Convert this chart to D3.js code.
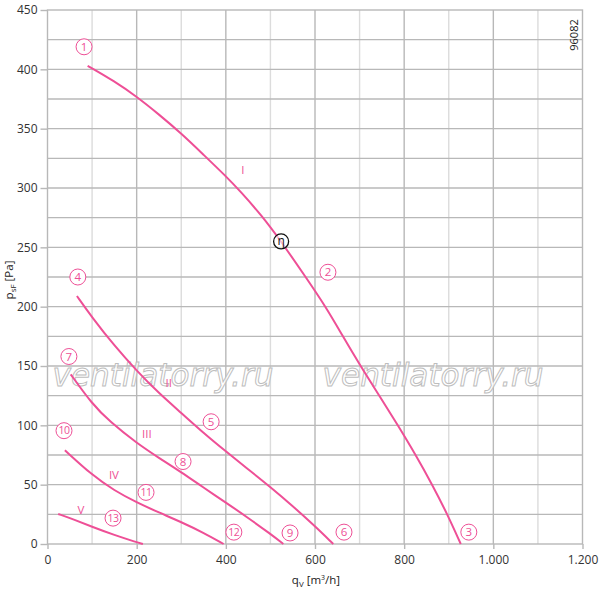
<!DOCTYPE html>
<html><head><meta charset="utf-8">
<script src="https://cdn.jsdelivr.net/npm/d3@7"></script>
<style>body{margin:0;background:#fff}svg{display:block}</style>
</head><body>
<svg id="c" width="600" height="592"></svg>
<script>
// ---- data ----
const xTicks = [0, 200, 400, 600, 800, 1000, 1200];
const yTicks = [0, 50, 100, 150, 200, 250, 300, 350, 400, 450];
const xGrid = [100, 200, 300, 400, 500, 600, 700, 800, 900, 1000, 1100];
const yGrid = [25, 50, 75, 100, 125, 150, 175, 200, 225, 250, 275, 300, 325, 350, 375, 400, 425];

const curveI = [[90,403],[150,390],[200,377],[250,362],[300,346],[350,328],[400,310],[433,297],[480,277],[524,255],[579,225],[624,200],[661,176],[702,150],[746,124],[786,100],[826,75],[863,50],[897,25],[927,0]];
const curveII = [[66,209],[100,191],[150,167],[200,146],[250,127],[300,110.5],[350,93.5],[400,78],[450,63],[500,48],[550,32],[600,15],[641,0]];
const curveIII = [[52,143],[100,118],[140,103],[200,85],[250,72.5],[300,60.5],[350,47.5],[400,35],[450,22],[500,8.5],[529,0]];
const curveIV = [[39,79],[100,58],[150,45],[200,35],[250,26.5],[300,18.5],[350,9.5],[395,0]];
const curveV = [[24,25.3],[60,20.5],[100,14.5],[150,7.5],[200,1.5],[214,0]];
const curves = [curveI, curveII, curveIII, curveIV, curveV];

const circledLabels = ["1","2","3","4","5","6","7","8","9","10","11","12","13"];
const circledQ = [82, 629, 945, 68, 367, 665, 48, 304, 544, 37, 221, 418, 147];
const circledP = [419, 229, 10, 225, 103, 10, 158, 69.5, 9.3, 95.5, 43.5, 10, 21.8];

const romanLabels = ["I","II","III","IV","V"];
const romanQ = [438, 272, 223, 149, 75];
const romanP = [315, 136, 93, 58, 28.6];

const etaPoint = [524, 255];

// ---- layout ----
const svg = d3.select("#c");
const pink = "#ee4f96";
const gridDark = "#b8b8b8", gridLight = "#dcdcdc";
const x = d3.scaleLinear().domain([0, 1200]).range([47.5, 582.5]);
const y = d3.scaleLinear().domain([0, 450]).range([544, 10]);
const loc = d3.formatLocale({decimal: ",", thousands: ".", grouping: [3], currency: ["", ""]});
const fmt = loc.format(",d");
const font = "'Open Sans', 'Noto Sans', sans-serif";

// grid
svg.append("g").selectAll("line").data(xGrid).join("line")
  .attr("x1", d => x(d)).attr("x2", d => x(d))
  .attr("y1", y(0)).attr("y2", y(450))
  .attr("stroke", d => (d % 200 === 0) ? gridDark : gridLight)
  .attr("stroke-width", 1.4);
svg.append("g").selectAll("line").data(yGrid).join("line")
  .attr("x1", x(0)).attr("x2", x(1200))
  .attr("y1", d => y(d)).attr("y2", d => y(d))
  .attr("stroke", gridDark).attr("stroke-width", 1.4);

// frame
svg.append("rect").attr("x", x(0)).attr("y", y(450))
  .attr("width", x(1200) - x(0)).attr("height", y(0) - y(450))
  .attr("fill", "none").attr("stroke", gridDark).attr("stroke-width", 1.4);

// watermark
[[x(0) + 5, 221], [x(617), 221]].forEach(([wx, wl]) => {
  svg.append("text").attr("x", wx).attr("y", 386)
    .attr("textLength", wl).attr("lengthAdjust", "spacingAndGlyphs")
    .attr("font-family", "'DejaVu Sans', sans-serif").attr("font-style", "italic")
    .attr("font-size", 32).attr("fill", "#fff").attr("fill-opacity", 0.75)
    .attr("stroke", "#bdbdbd").attr("stroke-width", 1)
    .text("ventilatorry.ru");
});

// axes
const xAxis = svg.append("g").attr("transform", `translate(0,${y(0)})`)
  .call(d3.axisBottom(x).tickValues(xTicks).tickFormat(fmt).tickSize(5).tickPadding(6));
const yAxis = svg.append("g").attr("transform", `translate(${x(0)},0)`)
  .call(d3.axisLeft(y).tickValues(yTicks).tickSize(7).tickPadding(3));
[xAxis, yAxis].forEach(a => {
  a.select(".domain").remove();
  a.selectAll(".tick line").attr("stroke", gridDark).attr("stroke-width", 1.4);
  a.selectAll(".tick text").attr("fill", "#333").attr("font-size", 12).attr("font-family", font);
});

// axis titles
const yt = svg.append("text").attr("transform", `translate(13,${280}) rotate(-90)`)
  .attr("text-anchor", "middle").attr("font-family", font).attr("font-size", 11.5).attr("fill", "#222");
yt.append("tspan").text("p");
yt.append("tspan").attr("font-size", 8).attr("dy", 2.5).text("sF");
yt.append("tspan").attr("dy", -2.5).text(" [Pa]");

const xt = svg.append("text").attr("x", 316).attr("y", 584)
  .attr("text-anchor", "middle").attr("font-family", font).attr("font-size", 11.5).attr("fill", "#222");
xt.append("tspan").text("q");
xt.append("tspan").attr("font-size", 8).attr("dy", 2.5).text("V");
xt.append("tspan").attr("dy", -2.5).text(" [m");
xt.append("tspan").attr("font-size", 7).attr("dy", -4).text("3");
xt.append("tspan").attr("dy", 4).text("/h]");

svg.append("text").attr("transform", "translate(578,35) rotate(-90)")
  .attr("text-anchor", "middle").attr("font-family", font).attr("font-size", 11).attr("fill", "#222")
  .text("96082");

// curves
const line = d3.line().x(d => x(d[0])).y(d => y(d[1])).curve(d3.curveBasis);
svg.append("g").selectAll("path").data(curves).join("path")
  .attr("d", line).attr("fill", "none").attr("stroke", pink).attr("stroke-width", 2);

// circled labels
const cl = svg.append("g").selectAll("g").data(circledLabels).join("g")
  .attr("transform", (d, i) => `translate(${x(circledQ[i])},${y(circledP[i])})`);
cl.append("circle").attr("r", 8).attr("fill", "#fff").attr("stroke", pink).attr("stroke-width", 1);
cl.append("text").attr("text-anchor", "middle").attr("dy", "0.36em")
  .attr("font-family", font).attr("font-size", d => d.length > 1 ? 10.5 : 11.5)
  .attr("letter-spacing", d => d.length > 1 ? -0.5 : 0)
  .attr("fill", pink).text(d => d);

// roman labels
svg.append("g").selectAll("text").data(romanLabels).join("text")
  .attr("x", (d, i) => x(romanQ[i])).attr("y", (d, i) => y(romanP[i]))
  .attr("dy", "0.36em").attr("text-anchor", "middle")
  .attr("font-family", font).attr("font-size", 11.5).attr("fill", pink).text(d => d);

// eta marker
const eg = svg.append("g").attr("transform", `translate(${x(etaPoint[0])},${y(etaPoint[1])})`);
eg.append("circle").attr("r", 7.5).attr("fill", "#fff").attr("fill-opacity", 0.6).attr("stroke", "#111").attr("stroke-width", 1.3);
eg.append("text").attr("text-anchor", "middle").attr("dy", "0.33em")
  .attr("font-family", font).attr("font-size", 12).attr("fill", "#111").text("η");
</script>
</body></html>
